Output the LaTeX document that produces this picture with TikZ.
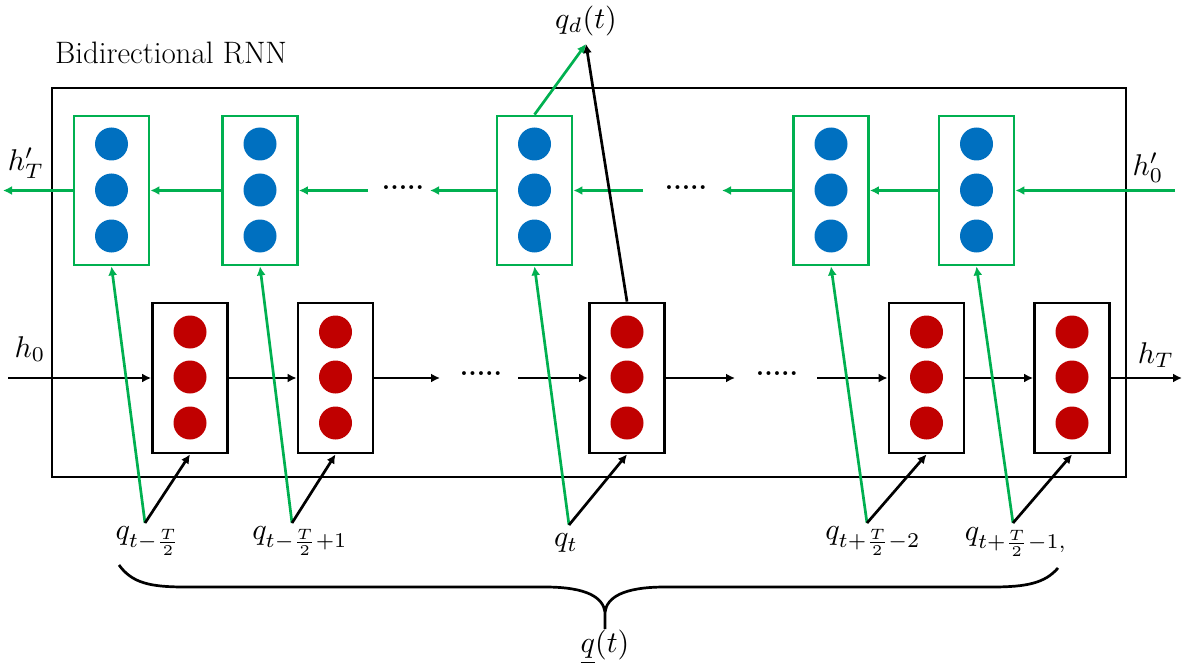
\documentclass[tikz,border=0pt]{standalone}
\usepackage{graphicx}
\usetikzlibrary{arrows.meta,calc}
\definecolor{cgreen}{RGB}{0,176,80}
\definecolor{cblue}{RGB}{0,112,192}
\definecolor{cred}{RGB}{192,0,0}
\newcommand{\biglbl}[1]{\scalebox{3}{#1}}
\begin{document}
\begin{tikzpicture}[x=1pt,y=-1pt,
 lbl/.style={font=\fontsize{10}{12}\selectfont, inner sep=0pt},
 bbox/.style={draw=cgreen, line width=2.8pt, minimum width=75pt, minimum height=149pt, inner sep=0pt},
 rbox/.style={draw=black, line width=2.8pt, minimum width=75pt, minimum height=150pt, inner sep=0pt},
 bdot/.style={circle, fill=cblue, minimum size=33pt, inner sep=0pt},
 rdot/.style={circle, fill=cred, minimum size=33pt, inner sep=0pt},
 garr/.style={draw=cgreen, line width=2.7pt, -{Latex[length=9pt,width=9pt]}},
 karr/.style={draw=black, line width=2.7pt, -{Latex[length=9pt,width=9pt]}},
 brace/.style={draw=black, line width=2.7pt},
 dotsnode/.style={font=\fontsize{27}{30}\selectfont\bfseries, inner sep=0pt},
]
\useasboundingbox (0,0) rectangle (1196,671);
% outer frame and title
\node[draw, line width=2.9pt, minimum width=1074pt, minimum height=389pt, inner sep=0pt] (outer) at (589,282.5) {};
\node[font=\fontsize{31}{34}\selectfont, inner sep=0pt] (title) at (171,53) {Bidirectional RNN};
% backward (blue) cells
\foreach \i/\x in {1/111.5,2/260,3/534.5,4/831,5/976.5}{
  \node[bbox] (b\i) at (\x,190.5) {};
  \node[bdot] (b\i-1) at (\x,144) {};
  \node[bdot] (b\i-2) at (\x,190) {};
  \node[bdot] (b\i-3) at (\x,236) {};
}
% forward (red) cells
\foreach \i/\x in {1/190,2/335.5,3/627,4/926.5,5/1072}{
  \node[rbox] (r\i) at (\x,378) {};
  \node[rdot] (r\i-1) at (\x,332) {};
  \node[rdot] (r\i-2) at (\x,377) {};
  \node[rdot] (r\i-3) at (\x,423) {};
}
% dots
\node[dotsnode] (td1) at (403,188) {.....};
\node[dotsnode] (td2) at (686,188) {.....};
\node[dotsnode] (bd1) at (481,374) {.....};
\node[dotsnode] (bd2) at (777,374) {.....};
% labels
\node[lbl] (hTp) at (26,163) {\biglbl{$h'_T$}};
\node[lbl] (h0p) at (1148,168) {\biglbl{$h'_0$}};
\node[lbl] (h0) at (30,349) {\biglbl{$h_0$}};
\node[lbl] (hT) at (1156,355) {\biglbl{$h_T$}};
\node[lbl] (qd) at (586,21) {\biglbl{$q_d(t)$}};
\node[lbl] (qall) at (605,647) {\biglbl{$\underline{q}(t)$}};
\node[lbl] (lq1) at (148,541) {\biglbl{$q_{t-\frac{T}{2}}$}};
\node[lbl] (lq2) at (300,541) {\biglbl{$q_{t-\frac{T}{2}+1}$}};
\node[lbl] (lq3) at (566,543) {\biglbl{$q_t$}};
\node[lbl] (lq4) at (873,541) {\biglbl{$q_{t+\frac{T}{2}-2}$}};
\node[lbl] (lq5) at (1016,542) {\biglbl{$q_{t+\frac{T}{2}-1,}$}};
% free ends
\coordinate (hTend) at (3,190.5);
\coordinate (h0start) at (1175,190.5);
\coordinate (ta1) at (368,190.5);
\coordinate (ta2) at (430,190.5);
\coordinate (ta3) at (643,190.5);
\coordinate (ta4) at (722,190.5);
\coordinate (h0in) at (8,378);
\coordinate (ba1) at (440,378);
\coordinate (ba2) at (518,378);
\coordinate (ba3) at (735,378);
\coordinate (ba4) at (817,378);
\coordinate (hTout) at (1182,378);
\coordinate (qdtip) at (586,44);
\coordinate (j1) at (145,523);
\coordinate (j2) at (292,523);
\coordinate (j3) at (569,525);
\coordinate (j4) at (867,523);
\coordinate (j5) at (1013,523);
% backward chain
\draw[garr] (b1.west) -- (hTend);
\draw[garr] (b2.west) -- (b1.east);
\draw[garr] (ta1) -- (b2.east);
\draw[garr] (b3.west) -- (ta2);
\draw[garr] (ta3) -- (b3.east);
\draw[garr] (b4.west) -- (ta4);
\draw[garr] (b5.west) -- (b4.east);
\draw[garr] (h0start) -- (b5.east);
% forward chain
\draw[karr] (h0in) -- (r1.west);
\draw[karr] (r1.east) -- (r2.west);
\draw[karr] (r2.east) -- (ba1);
\draw[karr] (ba2) -- (r3.west);
\draw[karr] (r3.east) -- (ba3);
\draw[karr] (ba4) -- (r4.west);
\draw[karr] (r4.east) -- (r5.west);
\draw[karr] (r5.east) -- (hTout);
% inputs
\foreach \i in {1,...,5}{
  \draw[garr] (j\i) -- (b\i.south);
  \draw[karr] (j\i) -- (r\i.south);
}
% output q_d(t)
\draw[garr] (b3.north) -- (qdtip);
\draw[karr] (r3.north) -- (qdtip);
% brace
\draw[brace] (119,565) .. controls (132,583) and (150,587) .. (185,587) -- (545,587) .. controls (588,587) and (603,598) .. (605,612) -- (605,629);
\draw[brace] (1058,568) .. controls (1045,583) and (1027,587) .. (992,587) -- (665,587) .. controls (622,587) and (607,598) .. (605,612);
\end{tikzpicture}
\end{document}
